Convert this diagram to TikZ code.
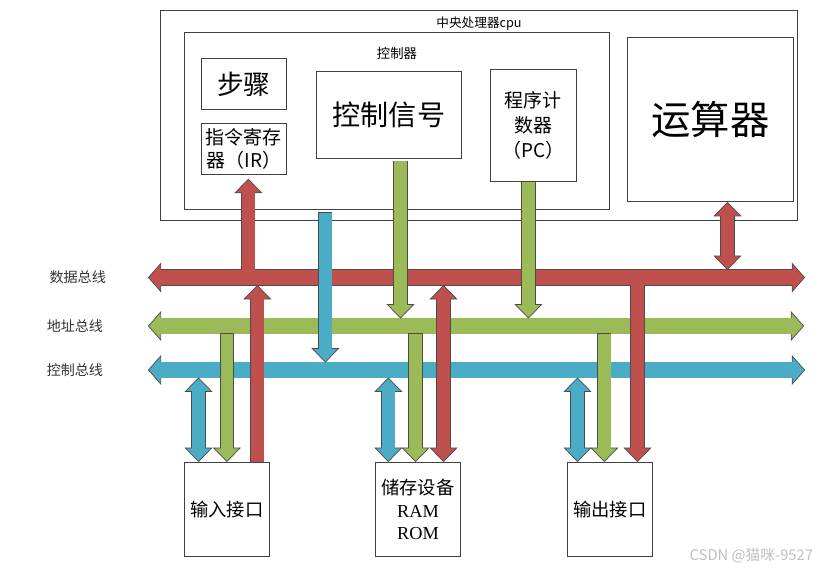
\documentclass[tikz,border=0pt]{standalone}
\usepackage{fontspec}
\setmainfont{Liberation Serif}
\newfontfamily\cjk{Noto Sans CJK SC}
\usetikzlibrary{arrows.meta, positioning, calc}
\definecolor{busred}{RGB}{192,80,77}
\definecolor{busgreen}{RGB}{155,187,89}
\definecolor{busblue}{RGB}{75,172,198}
\colorlet{rim}{black!70}

\begin{document}
\begin{tikzpicture}[
    x=0.025cm, y=-0.025cm,
    box/.style={draw=black!75, line width=.6pt, inner sep=0pt, align=center, anchor=north west},
    lbl/.style={font=\cjk\fontsize{10pt}{12pt}\selectfont, text=black!80},
    fat/.style={draw=#1, line width=3.2mm,
        -{Triangle[width=7mm, length=3.6mm, fill=#1, color=rim, line width=.5pt]},
        preaction={draw=rim, line width=3.55mm, shorten >=3.6mm, shorten <=-.25pt, -},
        postaction={draw=#1, line width=3.2mm, shorten >=3.1mm, -}},
    fatd/.style={draw=#1, line width=3.2mm,
        {Triangle[width=7mm, length=3.6mm, fill=#1, color=rim, line width=.5pt]}-{Triangle[width=7mm, length=3.6mm, fill=#1, color=rim, line width=.5pt]},
        preaction={draw=rim, line width=3.55mm, shorten >=3.6mm, shorten <=3.6mm, -},
        postaction={draw=#1, line width=3.2mm, shorten >=3.1mm, shorten <=3.1mm, -}},
    bus/.style={draw=#1, line width=3.75mm,
        {Triangle[width=7.5mm, length=3.3mm, fill=#1, color=rim, line width=.5pt]}-{Triangle[width=7.5mm, length=3.3mm, fill=#1, color=rim, line width=.5pt]},
        preaction={draw=rim, line width=4.1mm, shorten >=3.3mm, shorten <=3.3mm, -},
        postaction={draw=#1, line width=3.75mm, shorten >=2.9mm, shorten <=2.9mm, -}}
]
\useasboundingbox (0,0) rectangle (822,571);

% cpu and its parts
\node[box, minimum width=159.25mm, minimum height=52.5mm] (cpu) at (160,10) {};
\node[font=\cjk\fontsize{9pt}{11pt}\selectfont, below=1pt of cpu.north] (cpuT) {中央处理器cpu};
\node[box, minimum width=106.25mm, minimum height=44.25mm] (ctrl) at (184,32) {};
\node[font=\cjk\fontsize{9.5pt}{11pt}\selectfont, below=2.6mm of ctrl.north] (ctrlT) {控制器};
\node[box, minimum width=21.25mm, minimum height=12.75mm, font=\cjk\fontsize{19pt}{22pt}\selectfont] (step) at (201,58) {步骤};
\node[box, minimum width=21.25mm, minimum height=12.75mm, font=\cjk\fontsize{13.5pt}{16.4pt}\selectfont, anchor=north, below=3.25mm of step] (ir) {指令寄存\\器（IR）};
\node[box, minimum width=36.25mm, minimum height=21.75mm, font=\cjk\fontsize{20pt}{24pt}\selectfont] (sig) at (316,71) {控制信号};
\node[box, minimum width=21.5mm, minimum height=28mm, font=\cjk\fontsize{13.5pt}{18pt}\selectfont] (pc) at (490,69) {程序计\\数器\\（PC）};
\node[box, minimum width=41.5mm, minimum height=41mm, font=\cjk\fontsize{28pt}{32pt}\selectfont] (alu) at (627,37) {运算器};

% devices
\node[box, minimum width=21.25mm, minimum height=23.5mm, font=\cjk\fontsize{13pt}{16pt}\selectfont] (inp) at (184,462) {输入接口};
\node[box, minimum width=21.25mm, minimum height=23.5mm, font=\cjk\fontsize{13pt}{16pt}\selectfont] (mem) at (375,462) {储存设备\\{\rmfamily RAM}\\{\rmfamily ROM}};
\node[box, minimum width=21.25mm, minimum height=23.5mm, font=\cjk\fontsize{13pt}{16pt}\selectfont] (outp) at (567,462) {输出接口};

% bus ends and edges
\coordinate (dbL) at (148,277.5); \coordinate (dbR) at (805,277.5);
\coordinate (abL) at (148,326);   \coordinate (abR) at (804,326);
\coordinate (cbL) at (148,370);   \coordinate (cbR) at (805,370);
\coordinate (dbT) at (0,270);   \coordinate (dbB) at (0,285);
\coordinate (abT) at (0,318.5); \coordinate (abB) at (0,333.5);
\coordinate (cbT) at (0,362.5); \coordinate (cbB) at (0,377.5);

\node[lbl, left=0.93cm of dbL] (dbLbl) {数据总线};
\node[lbl, left=1.0cm of abL] (abLbl) {地址总线};
\node[lbl, left=1.0cm of cbL] (cbLbl) {控制总线};

\draw[bus=busred] (dbL) -- (dbR);
\draw[bus=busgreen] (abL) -- (abR);
\draw[bus=busblue] (cbL) -- (cbR);

% cpu side
\draw[fat=busred] ([xshift=1.1mm]ir.south |- dbT) -- ([xshift=1.1mm, yshift=-1mm]ir.south);
\draw[fat=busblue] ([xshift=-17.9mm, yshift=-.7mm]ctrl.south) -- ([xshift=-17.9mm]ctrl.south |- cbT);
\draw[fat=busgreen] ([xshift=2.9mm, yshift=-.5mm]sig.south) -- ([xshift=2.9mm]sig.south |- abT);
\draw[fat=busgreen] ([xshift=-1.25mm]pc.south) -- ([xshift=-1.25mm]pc.south |- abT);
\draw[fatd=busred] ([xshift=4.25mm]alu.south) -- ([xshift=4.25mm]alu.south |- dbT);

% device side
\draw[fatd=busblue] ([xshift=-7.1mm]inp.north |- cbB) -- ([xshift=-7.1mm]inp.north);
\draw[fat=busgreen] (inp.north |- abB) -- (inp.north);
\draw[fat=busred] ([xshift=7.6mm]inp.north) -- ([xshift=7.6mm]inp.north |- dbB);

\draw[fatd=busblue] ([xshift=-7.4mm]mem.north |- cbB) -- ([xshift=-7.4mm]mem.north);
\draw[fat=busgreen] ([xshift=-.6mm]mem.north |- abB) -- ([xshift=-.6mm]mem.north);
\draw[fatd=busred] ([xshift=6.4mm]mem.north |- dbB) -- ([xshift=6.4mm]mem.north);

\draw[fatd=busblue] ([xshift=-8.1mm]outp.north |- cbB) -- ([xshift=-8.1mm]outp.north);
\draw[fat=busgreen] ([xshift=-1.4mm]outp.north |- abB) -- ([xshift=-1.4mm]outp.north);
\draw[fat=busred] ([xshift=6.9mm]outp.north |- dbB) -- ([xshift=6.9mm]outp.north);

\node[font=\cjk\fontsize{10.5pt}{12pt}\selectfont, text=black!25, anchor=east] (mark) at (818,556) {CSDN @猫咪-9527};
\end{tikzpicture}
\end{document}
